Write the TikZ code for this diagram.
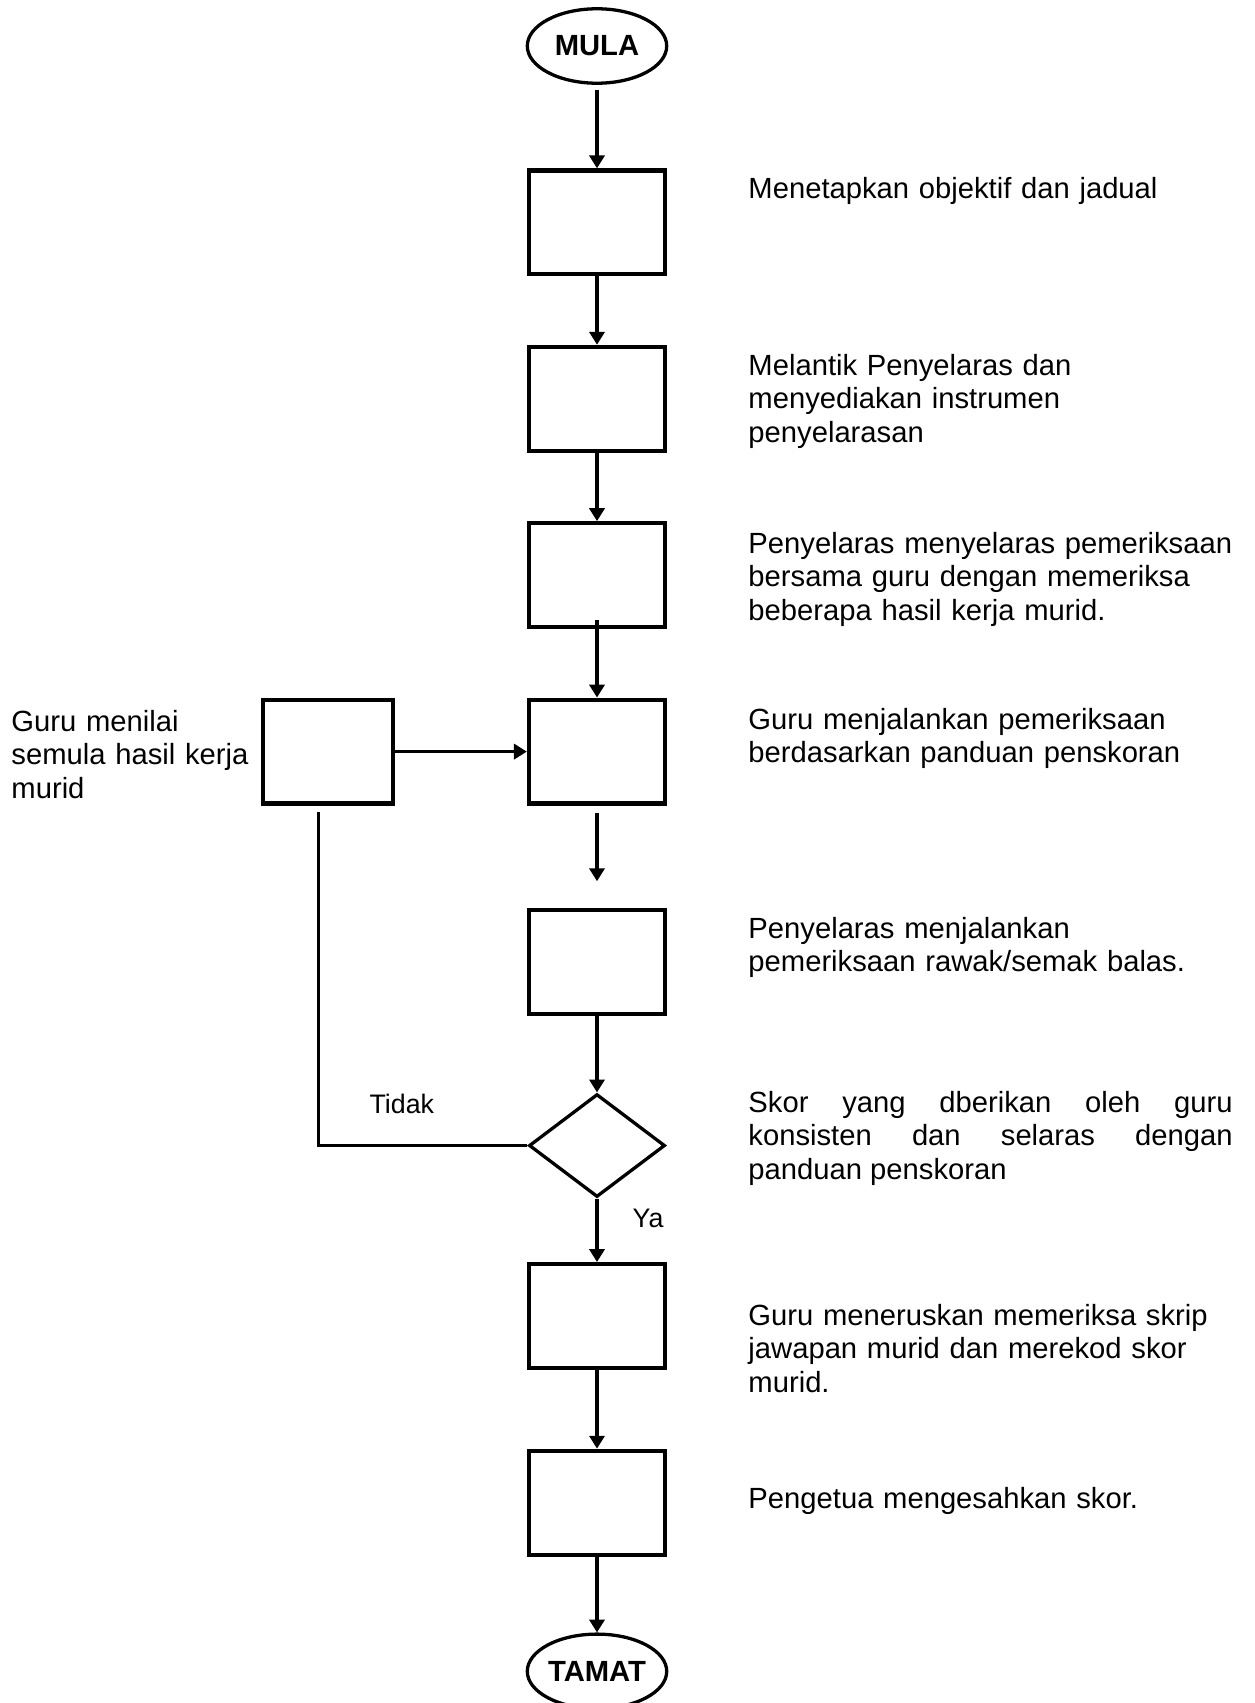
\documentclass[tikz,border=0pt]{standalone}
\usepackage{fontspec}
\setmainfont{Liberation Sans}
\usepackage{tikz}
\usetikzlibrary{arrows.meta,shapes,positioning}
\tikzstyle{aF}=[every edge/.style={draw,line width=1.35pt,-{Triangle[length=5.3pt,width=6.2pt]}}]
\tikzstyle{Fbox}=[draw,rectangle,line width=1.75pt,minimum width=55.9pt,minimum height=42.7pt,inner sep=0,node distance=72.5pt]
\tikzstyle{Fterm}=[draw,ellipse,line width=1.35pt,minimum width=57.3pt,minimum height=30.6pt,inner sep=0,
                font=\fontsize{12}{14}\selectfont\bfseries,node distance=72.5pt]
\tikzstyle{Fdec}=[draw,diamond,line width=1.35pt,minimum width=55.9pt,minimum height=42.3pt,inner sep=0,node distance=72.5pt]
\tikzstyle{Fdesc}=[anchor=base west,inner sep=0,text width=199pt,align=left,font=\fontsize{12}{13.8}\selectfont]
\tikzstyle{Flbl}=[inner sep=0,font=\fontsize{11}{12.6}\selectfont]

\begin{document}
\begin{tikzpicture}[aF,x=0.411pt,y=0.411pt]
  \useasboundingbox (0,0) rectangle (1255,-1703);
  % main column
  \node[Fterm] (mula) at (597,-46) {MULA};
  \node[Fbox,below of=mula] (b1) {};
  \node[Fbox,below of=b1] (b2) {};
  \node[Fbox,below of=b2] (b3) {};
  \node[Fbox,below of=b3] (b4) {};
  \node[Fbox,node distance=86.5pt,below of=b4] (b5) {};
  \node[Fdec,node distance=75.4pt,below of=b5] (dec) {};
  \node[Fbox,node distance=70.1pt,below of=dec] (b6) {};
  \node[Fbox,node distance=76.7pt,below of=b6] (b7) {};
  \node[Fterm,node distance=69.3pt,below of=b7] (tamat) {TAMAT};
  \node[Fbox,minimum width=53.4pt,node distance=110.6pt,left of=b4] (lb) {};
  % keterangan
  \node[Fdesc] (d1) at (748,-198) {Menetapkan objektif dan jadual};
  \node[Fdesc] (d2) at (748,-375) {Melantik Penyelaras dan\\ menyediakan instrumen\\ penyelarasan};
  \node[Fdesc] (d3) at (748,-553) {Penyelaras menyelaras pemeriksaan\\ bersama guru dengan memeriksa\\ beberapa hasil kerja murid.};
  \node[Fdesc] (d4) at (748,-729) {Guru menjalankan pemeriksaan\\ berdasarkan panduan penskoran};
  \node[Fdesc] (d5) at (748,-938) {Penyelaras menjalankan\\ pemeriksaan rawak/semak balas.};
  \node[Fdesc,align=justify] (d6) at (748,-1112) {Skor yang dberikan oleh guru\linebreak konsisten dan selaras dengan\linebreak panduan penskoran};
  \node[Fdesc] (d7) at (748,-1325) {Guru meneruskan memeriksa skrip\\ jawapan murid dan merekod skor\\ murid.};
  \node[Fdesc] (d8) at (748,-1508) {Pengetua mengesahkan skor.};
  \node[Fdesc] (dl) at (11,-731) {Guru menilai\\ semula hasil kerja\\ murid};
  % anak panah
  \path (mula) edge[shorten <=2pt] (b1)
        (b1) edge (b2)
        (b2) edge (b3)
        (b3) edge[shorten <=-4pt] (b4)
        (b4) edge[shorten <=3pt,shorten >=11pt] (b5)
        (b5) edge (dec)
        (dec) edge node[Flbl,pos=0.31,right=14pt] {Ya} (b6)
        (b6) edge (b7)
        (b7) edge (tamat)
        (lb) edge (b4);
  \draw[line width=1.25pt,shorten >=2.5pt] (dec.west) -| node[Flbl,pos=0.3,above=12.3pt] {Tidak} ([xshift=-4pt]lb.south);
\end{tikzpicture}
\end{document}
